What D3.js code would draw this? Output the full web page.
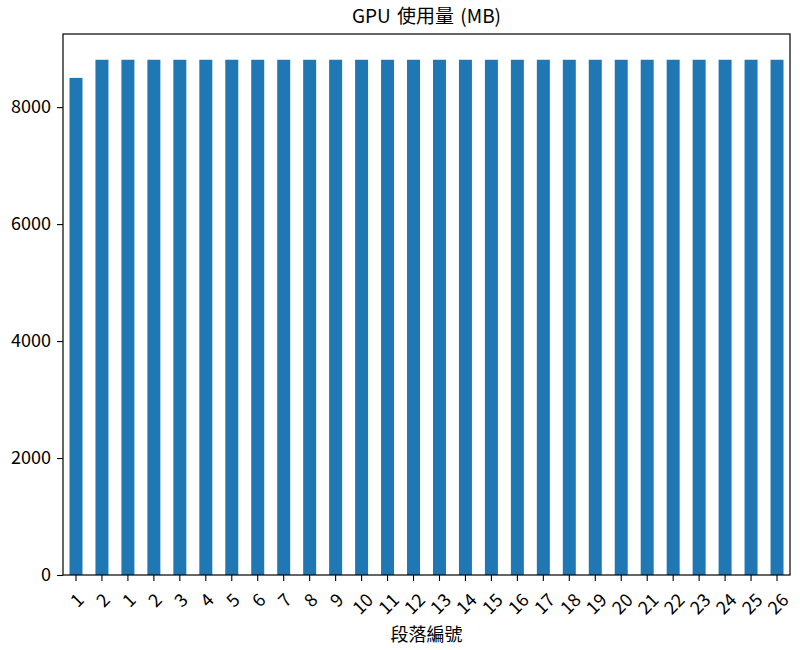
<!DOCTYPE html>
<html>
<head>
<meta charset="utf-8">
<script src="https://cdn.jsdelivr.net/npm/d3@7"></script>
<style>
  body { margin: 0; background: #fff; }
  text { font-family: "Noto Sans CJK TC", "Noto Sans", sans-serif; fill: #000; }
</style>
</head>
<body>
<div id="chart"></div>
<script>
// segment ids as they appear on the x axis (two runs: 1-2, then 1-26)
var segments = ["1", "2", "1", "2", "3", "4", "5", "6", "7", "8", "9", "10", "11", "12", "13",
  "14", "15", "16", "17", "18", "19", "20", "21", "22", "23", "24", "25", "26"];
var gpuMB = [8500, 8810, 8810, 8810, 8810, 8810, 8810, 8810, 8810, 8810, 8810, 8810, 8810, 8810,
  8810, 8810, 8810, 8810, 8810, 8810, 8810, 8810, 8810, 8810, 8810, 8810, 8810, 8810];
var yTicks = [0, 2000, 4000, 6000, 8000];
var titleText = "GPU 使用量 (MB)";
var xLabelText = "段落編號";

function drawChart() {
  var width = 800, height = 650,
    mLeft = 63, mRight = 790, mTop = 34, mBottom = 575;

  var svg = d3.select("#chart").append("svg")
    .attr("width", width)
    .attr("height", height);

  var x = d3.scaleBand()
    .domain(d3.range(segments.length))
    .range([mLeft, mRight])
    .paddingInner(0.5)
    .paddingOuter(0.25);

  var y = d3.scaleLinear()
    .domain([0, d3.max(gpuMB) * 1.05])
    .range([mBottom, mTop]);

  svg.selectAll("rect.bar")
    .data(gpuMB)
    .enter()
    .append("rect")
    .attr("class", "bar")
    .attr("x", function(d, i) { return x(i); })
    .attr("y", function(d) { return y(d); })
    .attr("width", x.bandwidth())
    .attr("height", function(d) { return mBottom - y(d); })
    .attr("fill", "#1f77b4");

  // y axis
  var yAxis = svg.append("g")
    .attr("transform", "translate(" + mLeft + ",0)")
    .call(d3.axisLeft(y).tickValues(yTicks).tickSize(6).tickPadding(6).tickFormat(d3.format("d")));
  yAxis.select(".domain").remove();
  yAxis.selectAll(".tick line").attr("stroke", "#000").attr("stroke-width", 1.1);
  yAxis.selectAll(".tick text").style("font-size", "18px");

  // x axis
  var xAxis = svg.append("g")
    .attr("transform", "translate(0," + mBottom + ")")
    .call(d3.axisBottom(x).tickSize(6).tickFormat(function(i) { return segments[i]; }));
  xAxis.select(".domain").remove();
  xAxis.selectAll(".tick line").attr("stroke", "#000").attr("stroke-width", 1.1);
  xAxis.selectAll(".tick text")
    .style("font-size", "18px")
    .attr("text-anchor", "middle")
    .attr("dominant-baseline", "central")
    .attr("y", null)
    .attr("dy", null)
    .attr("transform", function() {
      // matplotlib style: rotated box hangs from below the tick
      var w = this.getComputedTextLength(), h = 13;
      var off = 16 + (w + h) * Math.SQRT1_2 / 2;
      return "translate(0," + off + ") rotate(-45)";
    });

  // frame
  svg.append("rect")
    .attr("x", mLeft)
    .attr("y", mTop)
    .attr("width", mRight - mLeft)
    .attr("height", mBottom - mTop)
    .attr("fill", "none")
    .attr("stroke", "#000")
    .attr("stroke-width", 1.2);

  svg.append("text")
    .attr("x", (mLeft + mRight) / 2)
    .attr("y", 23)
    .attr("text-anchor", "middle")
    .style("font-size", "19px")
    .style("word-spacing", "2px")
    .text(titleText);

  svg.append("text")
    .attr("x", (mLeft + mRight) / 2)
    .attr("y", 641)
    .attr("text-anchor", "middle")
    .style("font-size", "18px")
    .text(xLabelText);
}

drawChart();
</script>
</body>
</html>
